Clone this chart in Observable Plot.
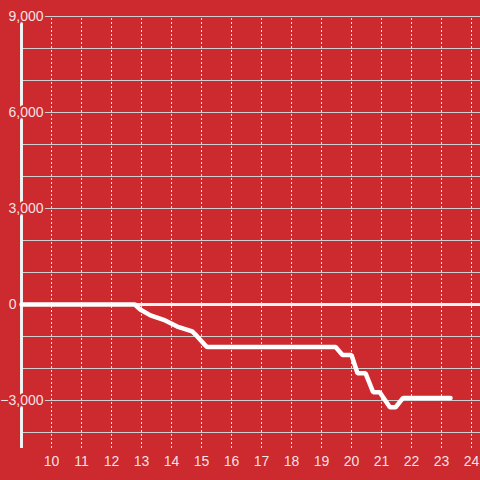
<!DOCTYPE html>
<html>
<head>
<meta charset="utf-8">
<script src="https://cdn.jsdelivr.net/npm/d3@7"></script>
<script src="https://cdn.jsdelivr.net/npm/@observablehq/plot@0.6"></script>
<style>
  html, body { margin: 0; padding: 0; background: #cd2a30; }
  #chart svg { display: block; }
</style>
</head>
<body>
<div id="chart"></div>
<script>
// Data
const hours = [9.0, 12.78, 12.97, 13.3, 13.74, 14.19, 14.69, 14.8, 15.13, 15.19, 19.47, 19.7, 20.0, 20.2, 20.47, 20.72, 20.94, 21.28, 21.47, 21.72, 23.3];
const values = [0, 0, -166, -340, -480, -690, -840, -940, -1280, -1330, -1330, -1580, -1580, -2150, -2150, -2740, -2740, -3210, -3210, -2920, -2920];
const yTicks = [-3000, 3000, 6000, 9000];
const yZeroTick = [0];
const yGrid = [-4000, -3000, -2000, -1000, 1000, 2000, 3000, 4000, 5000, 6000, 7000, 8000, 9000];
const xTicks = [10, 11, 12, 13, 14, 15, 16, 17, 18, 19, 20, 21, 22, 23, 24];

const bg = "#cd2a30";
const labelColor = "rgba(255,255,255,0.88)";
const data = hours.map((h, i) => ({h, v: values[i]}));
const fmt = d3.format(",");

const chart = Plot.plot({
  width: 480,
  height: 480,
  margin: 0,
  style: {background: bg, fontFamily: "'Liberation Sans', Arial, sans-serif", fontSize: "14px"},
  x: {domain: [9, 24.3], range: [21, 480], axis: null},
  y: {domain: [-4500, 9000], range: [448, 16], axis: null},
  marks: [
    Plot.ruleY(yGrid, {y: d => d, x1: 9, x2: 24.3, stroke: "#cfcfcf", strokeWidth: 1}),
    Plot.ruleX(xTicks, {x: d => d, y1: -4500, y2: 9000, stroke: "#e6e6e6", strokeWidth: 1, strokeDasharray: "2,2"}),
    Plot.ruleY([0], {x1: 9, x2: 24.3, stroke: "#f2f2f2", strokeWidth: 3}),
    Plot.ruleX([9], {y1: -4500, y2: 9000, stroke: "#f2f2f2", strokeWidth: 3}),
    Plot.line(data, {x: "h", y: "v", stroke: "#ffffff", strokeWidth: 4.5, strokeLinejoin: "miter"}),
    Plot.text(yTicks, {x: 9, y: d => d, text: d => fmt(d), textAnchor: "end", dx: 22, fill: labelColor, stroke: bg, strokeWidth: 4, fontSize: 14}),
    Plot.text(yZeroTick, {x: 9, y: d => d, text: d => fmt(d), textAnchor: "end", dx: -5, fill: labelColor, fontSize: 14}),
    Plot.text(xTicks, {x: d => d, y: -4500, text: d => String(d), dy: 13, fill: labelColor, fontSize: 14})
  ]
});
document.getElementById("chart").appendChild(chart);
</script>
</body>
</html>
